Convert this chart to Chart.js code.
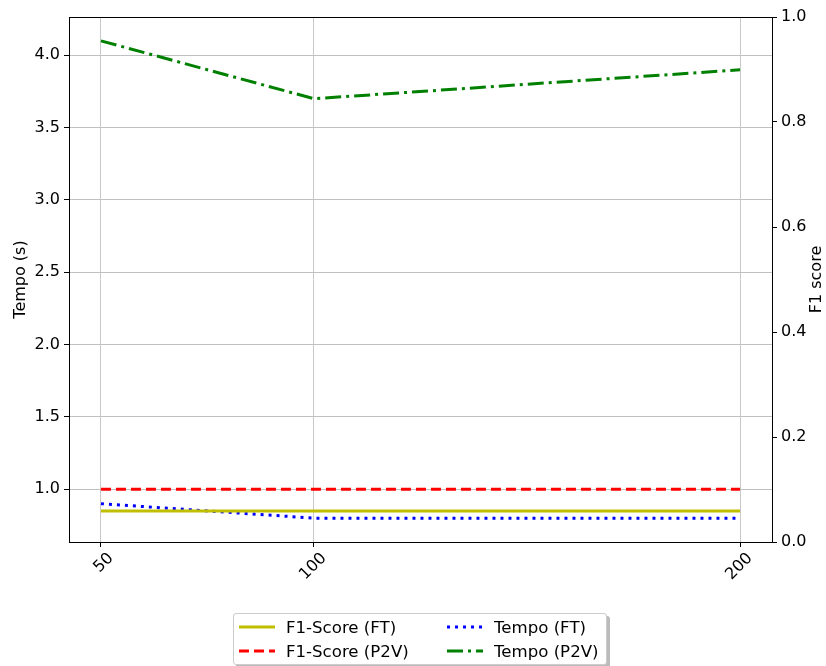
<!DOCTYPE html>
<html>
<head>
<meta charset="utf-8">
<script src="https://cdn.jsdelivr.net/npm/chart.js@4/dist/chart.umd.min.js"></script>
<style>
    body { margin: 0; background: #fff; font-family: 'DejaVu Sans', sans-serif; }
    #wrap { position: relative; width: 826px; height: 666px; }
    #legend {
        position: absolute; left: 233px; top: 613px; width: 374px; height: 52px;
        border: 1px solid #ccc; border-radius: 3px; background: #fff;
        box-shadow: 3px 3px 0 #bbb;
        display: grid; grid-template-columns: 208px 166px; grid-auto-rows: 24px;
        padding-top: 1px; box-sizing: border-box; font-size: 16.6px; color: #000;
    }
    .item { display: flex; align-items: center; white-space: nowrap; }
    .item svg { margin: 0 11px 0 5px; }
</style>
</head>
<body>
<div id="wrap">
    <canvas id="chart" width="826" height="666"></canvas>
    <div id="legend"></div>
</div>
<script>
// Data
const xValues = [50, 100, 200];
const f1FT = [0.85, 0.85, 0.85];
const f1P2V = [1.0, 1.0, 1.0];
const tempoFT = [0.9, 0.8, 0.8];
const tempoP2V = [4.1, 3.7, 3.9];
const leftTicks = [1.0, 1.5, 2.0, 2.5, 3.0, 3.5, 4.0];
const rightTicks = [0.0, 0.2, 0.4, 0.6, 0.8, 1.0];

function toPoints(values) {
    return xValues.map((x, i) => ({ x: x, y: values[i] }));
}

const series = [
    { label: 'F1-Score (FT)', data: f1FT, color: '#bfbf00', dash: [] },
    { label: 'F1-Score (P2V)', data: f1P2V, color: '#ff0000', dash: [10, 5] },
    { label: 'Tempo (FT)', data: tempoFT, color: '#0000ff', dash: [3, 5] },
    { label: 'Tempo (P2V)', data: tempoP2V, color: '#008000', dash: [16, 5, 3, 5] }
];

const font = { family: 'DejaVu Sans', size: 16 };

// frame around plot area (matplotlib top spine) + right axis title read bottom-to-top
const framePlugin = {
    id: 'frame',
    afterDraw(chart) {
        const a = chart.chartArea, ctx = chart.ctx;
        ctx.save();
        ctx.strokeStyle = '#000';
        ctx.lineWidth = 1;
        ctx.strokeRect(a.left + 0.5, a.top + 0.5, a.right - a.left, a.bottom - a.top);
        ctx.translate(817, (a.top + a.bottom) / 2);
        ctx.rotate(-Math.PI / 2);
        ctx.fillStyle = '#000';
        ctx.font = '16px "DejaVu Sans"';
        ctx.textAlign = 'center';
        ctx.textBaseline = 'middle';
        ctx.fillText('F1 score', 0, 0);
        ctx.restore();
    }
};

new Chart(document.getElementById('chart'), {
    type: 'line',
    data: {
        datasets: series.map(s => ({
            label: s.label,
            data: toPoints(s.data),
            borderColor: s.color,
            backgroundColor: s.color,
            borderDash: s.dash,
            borderWidth: 3,
            pointRadius: 0,
            tension: 0,
            yAxisID: 'y'
        }))
    },
    options: {
        responsive: false,
        animation: false,
        layout: { padding: { top: 17, left: 0, right: 0, bottom: 64 } },
        plugins: { legend: { display: false }, tooltip: { enabled: false } },
        scales: {
            x: {
                type: 'linear',
                min: 42.5,
                max: 207.5,
                afterBuildTicks: axis => { axis.ticks = xValues.map(v => ({ value: v })); },
                afterFit: axis => { axis.height = 60; },
                grid: { color: '#c8c8c8', tickLength: 5, tickColor: '#000' },
                border: { color: '#000' },
                ticks: { font: font, color: '#000', minRotation: 45, maxRotation: 45, padding: 2, labelOffset: 10 }
            },
            y: {
                position: 'left',
                min: 0.635,
                max: 4.265,
                afterBuildTicks: axis => { axis.ticks = leftTicks.map(v => ({ value: v })); },
                afterFit: axis => { axis.width = 69; },
                grid: { color: '#c0c0c0', tickLength: 5, tickColor: '#000' },
                border: { color: '#000' },
                ticks: { font: font, color: '#000', padding: 4, callback: v => v.toFixed(1) },
                title: { display: true, text: 'Tempo (s)', font: font, color: '#000', padding: { top: 11, bottom: 0 } }
            },
            y1: {
                position: 'right',
                min: 0,
                max: 1,
                afterBuildTicks: axis => { axis.ticks = rightTicks.map(v => ({ value: v })); },
                afterFit: axis => { axis.width = 54; },
                grid: { drawOnChartArea: false, tickLength: 5, tickColor: '#000' },
                border: { color: '#000' },
                ticks: { font: font, color: '#000', padding: 4, callback: v => v.toFixed(1) }
            }
        }
    },
    plugins: [framePlugin]
});

// legend in matplotlib column order (2 columns)
const legendOrder = [0, 2, 1, 3];
const legendEl = document.getElementById('legend');
legendOrder.forEach(i => {
    const s = series[i];
    const item = document.createElement('div');
    item.className = 'item';
    item.innerHTML = `<svg width="36" height="10"><line x1="0" y1="5" x2="36" y2="5" stroke="${s.color}" stroke-width="3" stroke-dasharray="${s.dash.join(' ')}"/></svg><span>${s.label}</span>`;
    legendEl.appendChild(item);
});
</script>
</body>
</html>
